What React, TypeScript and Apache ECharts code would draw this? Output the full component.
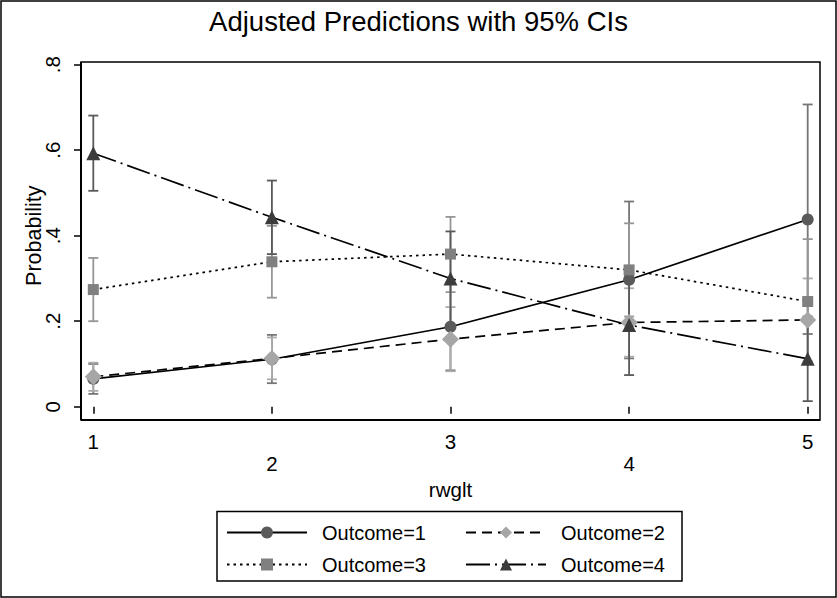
import React, { useEffect, useRef } from "react";
import * as echarts from "echarts";

const xValues = [1, 2, 3, 4, 5];
const xTickLabels = ["1", "2", "3", "4", "5"];
const yTickValues = [0, 0.2, 0.4, 0.6, 0.8];

const outcomeNames = ["Outcome=1", "Outcome=2", "Outcome=3", "Outcome=4"];

const outcome1 = [0.065, 0.111, 0.187, 0.297, 0.438];
const outcome1Lo = [0.03, 0.055, 0.085, 0.113, 0.17];
const outcome1Hi = [0.1, 0.168, 0.289, 0.48, 0.707];

const outcome2 = [0.07, 0.113, 0.158, 0.197, 0.203];
const outcome2Lo = [0.037, 0.064, 0.083, 0.117, 0.106];
const outcome2Hi = [0.103, 0.162, 0.233, 0.277, 0.3];

const outcome3 = [0.274, 0.339, 0.357, 0.32, 0.246];
const outcome3Lo = [0.2, 0.255, 0.268, 0.211, 0.1];
const outcome3Hi = [0.348, 0.423, 0.444, 0.429, 0.392];

const outcome4 = [0.593, 0.443, 0.3, 0.191, 0.112];
const outcome4Lo = [0.505, 0.357, 0.19, 0.074, 0.013];
const outcome4Hi = [0.681, 0.529, 0.41, 0.308, 0.211];

const FONT = '"Liberation Sans", Arial, Helvetica, sans-serif';

const markerColors = ["#5a5a5a", "#a6a6a6", "#808080", "#3c3c3c"];
const ciColors = ["#767676", "#ababab", "#969696", "#5a5a5a"];
const symbols = ["circle", "diamond", "rect", "triangle"];
const symbolSizes = [12, 17, 11, 14];
const lineDashes: any[] = ["solid", [10, 6], [2.5, 4], [24, 5, 2, 5]];

export default function App() {
  const ref = useRef<HTMLDivElement>(null);

  useEffect(() => {
    document.body.style.margin = "0";
    const chart = echarts.init(ref.current!, undefined, { renderer: "svg" });

    const means = [outcome1, outcome2, outcome3, outcome4];
    const los = [outcome1Lo, outcome2Lo, outcome3Lo, outcome4Lo];
    const his = [outcome1Hi, outcome2Hi, outcome3Hi, outcome4Hi];

    const ciSeries = means.map((_, k) => ({
      name: "CI " + outcomeNames[k],
      type: "custom",
      clip: false,
      z: 2,
      encode: { x: 0, y: [1, 2] },
      data: xValues.map((x, i) => [x, los[k][i], his[k][i]]),
      renderItem: (params: any, api: any) => {
        const x = api.value(0);
        const pLo = api.coord([x, api.value(1)]);
        const pHi = api.coord([x, api.value(2)]);
        const hw = 5;
        const style = { stroke: ciColors[k], lineWidth: 1.8 };
        return {
          type: "group",
          children: [
            { type: "line", shape: { x1: pLo[0], y1: pLo[1], x2: pHi[0], y2: pHi[1] }, style },
            { type: "line", shape: { x1: pLo[0] - hw, y1: pLo[1], x2: pLo[0] + hw, y2: pLo[1] }, style },
            { type: "line", shape: { x1: pHi[0] - hw, y1: pHi[1], x2: pHi[0] + hw, y2: pHi[1] }, style },
          ],
        };
      },
    }));

    const lineSeries = means.map((vals, k) => ({
      name: outcomeNames[k],
      type: "line",
      z: 3,
      data: xValues.map((x, i) => [x, vals[i]]),
      symbol: symbols[k],
      symbolSize: symbolSizes[k],
      showAllSymbol: true,
      itemStyle: { color: markerColors[k] },
      lineStyle: { color: "#000", width: 1.7, type: lineDashes[k] },
      emphasis: { disabled: true },
    }));

    const legendCommon = {
      orient: "vertical",
      top: 521.5,
      padding: 0,
      itemGap: 10,
      itemWidth: 80,
      itemHeight: 15,
      selectedMode: false,
      textStyle: {
        fontFamily: FONT,
        fontSize: 20,
        color: "#000",
        lineHeight: 22,
        padding: [0, 0, 0, 10],
      },
    };

    chart.setOption({
      animation: false,
      backgroundColor: "#fff",
      title: {
        text: "Adjusted Predictions with 95% CIs",
        left: "center",
        top: 7,
        padding: 0,
        textStyle: { fontFamily: FONT, fontSize: 27.5, fontWeight: "normal", color: "#000" },
      },
      grid: { left: 93.3, right: 29.3, top: 64.7, bottom: 191.3, containLabel: false },
      xAxis: {
        type: "value",
        min: 1,
        max: 5,
        interval: 1,
        offset: 13.3,
        name: "rwglt",
        nameLocation: "middle",
        nameGap: 59,
        nameMoveOverlap: false,
        nameTextStyle: { fontFamily: FONT, fontSize: 20.5, color: "#000" },
        axisLine: { show: false },
        axisTick: { show: true, length: 7, lineStyle: { color: "#000", width: 1.5 } },
        axisLabel: {
          fontFamily: FONT,
          fontSize: 20.5,
          color: "#000",
          lineHeight: 22,
          margin: 10,
          formatter: (v: number) => {
            const idx = xValues.indexOf(v);
            const t = idx >= 0 ? xTickLabels[idx] : "";
            return idx % 2 === 1 ? "\n" + t : t;
          },
        },
        splitLine: { show: false },
      },
      yAxis: {
        type: "value",
        min: 0,
        max: 0.8,
        interval: 0.2,
        offset: 12.3,
        name: "Probability",
        nameLocation: "middle",
        nameGap: 36,
        nameMoveOverlap: false,
        nameTextStyle: { fontFamily: FONT, fontSize: 21.5, color: "#000" },
        axisLine: { show: false },
        axisTick: { show: true, length: 7, lineStyle: { color: "#000", width: 1.5 } },
        axisLabel: {
          fontFamily: FONT,
          fontSize: 20.5,
          color: "#000",
          rotate: 90,
          margin: 18,
          formatter: (v: number) => {
            const idx = yTickValues.findIndex((t) => Math.abs(t - v) < 1e-9);
            if (idx < 0) return "";
            const t = yTickValues[idx];
            return t === 0 ? "0" : t.toFixed(1).replace(/^0/, "");
          },
        },
        splitLine: { show: false },
      },
      legend: [
        { ...legendCommon, left: 226, data: [outcomeNames[0], outcomeNames[2]] },
        { ...legendCommon, left: 465, data: [outcomeNames[1], outcomeNames[3]] },
      ],
      graphic: [
        {
          type: "rect",
          shape: { x: 1, y: 1, width: 835, height: 596 },
          style: { fill: "none", stroke: "#000", lineWidth: 1.5 },
          silent: true,
        },
        {
          type: "rect",
          shape: { x: 81, y: 62, width: 739, height: 358 },
          style: { fill: "none", stroke: "#000", lineWidth: 1.5 },
          silent: true,
        },
        {
          type: "line",
          shape: { x1: 81, y1: 62, x2: 81, y2: 420 },
          style: { stroke: "#000", lineWidth: 2 },
          silent: true,
        },
        {
          type: "line",
          shape: { x1: 81, y1: 420, x2: 820, y2: 420 },
          style: { stroke: "#000", lineWidth: 2 },
          silent: true,
        },
        {
          type: "rect",
          shape: { x: 217, y: 511.5, width: 465, height: 69.5 },
          style: { fill: "none", stroke: "#000", lineWidth: 1.5 },
          silent: true,
        },
      ],
      series: [...ciSeries, ...lineSeries],
    });

    return () => chart.dispose();
  }, []);

  return (
    <div
      ref={ref}
      style={{ position: "fixed", left: 0, top: 0, width: 837, height: 598, background: "#fff" }}
    />
  );
}
